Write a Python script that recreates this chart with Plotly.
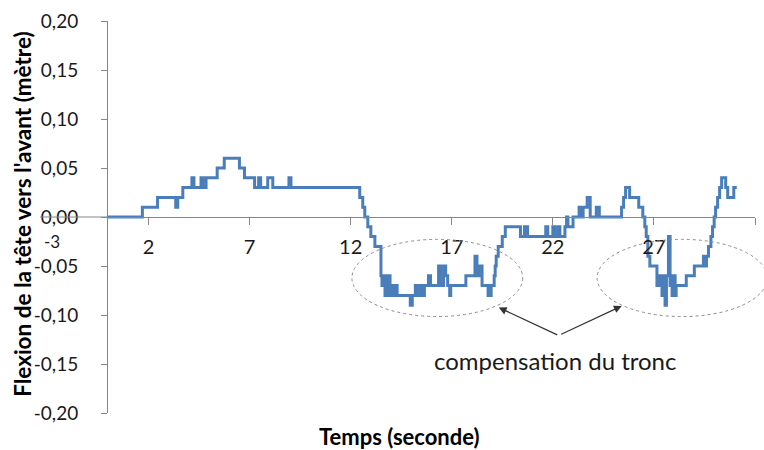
import plotly.graph_objects as go

# ---- data ----
time_s = [0.0, 1.7, 2.45, 3.35, 3.45, 3.7, 4.15, 4.25, 4.6, 4.7, 4.85, 5.4, 5.75, 6.5, 6.75,
          7.25, 7.45, 7.55, 7.9, 8.15, 8.95, 9.05, 12.45, 12.6, 12.7, 12.85, 13.0, 13.2, 13.5,
          13.55, 13.65, 13.7, 13.75, 13.8, 13.9, 13.95, 14.05, 14.1, 14.2, 14.3, 14.95, 15.05,
          15.2, 15.3, 15.45, 15.55, 15.65, 15.85, 15.95, 16.35, 16.45, 16.6, 16.7, 16.8, 16.9,
          16.95, 17.7, 18.15, 18.25, 18.35, 18.5, 18.8, 18.95, 19.1, 19.15, 19.2, 19.3, 19.5,
          19.65, 20.4, 20.6, 20.75, 21.65, 21.75, 22.0, 22.1, 22.25, 22.35, 22.6, 22.68, 22.75,
          23.0, 23.3, 23.4, 23.5, 23.7, 23.85, 24.15, 24.3, 25.4, 25.5, 25.6, 25.8, 26.25, 26.45,
          26.55, 26.62, 26.7, 26.8, 27.15, 27.3, 27.4, 27.45, 27.55, 27.62, 27.72, 27.8, 27.85,
          27.9, 27.95, 28.05, 28.1, 28.6, 29.0, 29.45, 29.53, 29.6, 29.7, 29.82, 29.9, 29.98,
          30.05, 30.15, 30.25, 30.35, 30.55, 30.65, 30.95, 31.1]
flexion_m = [0.00, 0.01, 0.02, 0.01, 0.02, 0.03, 0.04, 0.03, 0.04, 0.03, 0.04, 0.05, 0.06, 0.05, 0.04,
             0.03, 0.04, 0.03, 0.04, 0.03, 0.04, 0.03, 0.02, 0.01, 0.00, -0.01, -0.02, -0.03, -0.06,
             -0.07, -0.06, -0.08, -0.06, -0.08, -0.06, -0.08, -0.07, -0.08, -0.07, -0.08, -0.09, -0.08,
             -0.07, -0.08, -0.07, -0.08, -0.07, -0.06, -0.07, -0.05, -0.07, -0.05, -0.06, -0.07, -0.08,
             -0.07, -0.06, -0.04, -0.06, -0.05, -0.07, -0.08, -0.07, -0.06, -0.05, -0.04, -0.03, -0.02,
             -0.01, -0.02, -0.01, -0.02, -0.01, -0.02, -0.01, -0.02, -0.01, -0.02, -0.01, 0.00, -0.01,
             0.00, 0.01, 0.00, 0.01, 0.02, 0.00, 0.01, 0.00, 0.01, 0.02, 0.03, 0.02, 0.01, 0.00,
             -0.01, -0.02, -0.04, -0.05, -0.07, -0.06, -0.08, -0.06, -0.09, -0.06, -0.02, -0.07, -0.06,
             -0.08, -0.06, -0.08, -0.07, -0.06, -0.05, -0.04, -0.05, -0.04, -0.03, -0.02, -0.01, 0.00,
             0.01, 0.02, 0.03, 0.04, 0.03, 0.02, 0.03, 0.03]

x_ticks = [2, 7, 12, 17, 22, 27, 32]
y_ticks = [-0.20, -0.15, -0.10, -0.05, 0.00, 0.05, 0.10, 0.15, 0.20]
y_ticktext = [f"{v:.2f}".replace(".", ",") for v in y_ticks]

FONT = "Lato"
AXIS = "#868686"
TXT = "#1a1a1a"

fig = go.Figure()
fig.add_trace(go.Scatter(x=time_s, y=flexion_m, mode="lines", line_shape="hv",
                         line=dict(color="#4A7EBB", width=3), showlegend=False, hoverinfo="skip"))

fig.update_layout(
    width=764, height=450,
    margin=dict(l=108, r=9, t=18, b=37),
    paper_bgcolor="white", plot_bgcolor="white",
    font=dict(family=FONT, size=19, color=TXT),
    xaxis=dict(range=[0, 32], tickvals=x_ticks, ticktext=[str(v) for v in x_ticks],
               showgrid=False, zeroline=False, showline=True, linecolor=AXIS, linewidth=1,
               ticks="outside", ticklen=7, tickcolor=AXIS, anchor="free", position=0.5,
               ticklabelstandoff=5, tickfont=dict(size=20)),
    yaxis=dict(range=[-0.2, 0.2], tickvals=y_ticks, ticktext=y_ticktext,
               showgrid=False, zeroline=False, showline=True, linecolor=AXIS, linewidth=1,
               ticks="outside", ticklen=6, tickcolor=AXIS, ticklabelstandoff=19),
)

# zero line extending through the 0,00 label
fig.add_shape(type="line", xref="paper", yref="paper", x0=-0.105, x1=0, y0=0.5, y1=0.5,
              line=dict(color=AXIS, width=1))

# dotted ellipses
for x0, x1 in [(0.377, 0.641), (0.756, 1.019)]:
    fig.add_shape(type="circle", xref="paper", yref="paper", x0=x0, x1=x1, y0=0.246, y1=0.443,
                  line=dict(color="#8c8c8c", width=1, dash="dot"))

# arrows
fig.add_annotation(xref="paper", yref="paper", x=0.604, y=0.269, ax=60, ay=28, text="",
                   showarrow=True, arrowhead=2, arrowsize=1.3, arrowwidth=1.2, arrowcolor="#333")
fig.add_annotation(xref="paper", yref="paper", x=0.794, y=0.273, ax=-62, ay=29, text="",
                   showarrow=True, arrowhead=2, arrowsize=1.3, arrowwidth=1.2, arrowcolor="#333")

fig.add_annotation(xref="paper", yref="paper", x=0.691, y=0.134, text="compensation du tronc",
                   showarrow=False, font=dict(family=FONT, size=24, color=TXT),
                   xanchor="center", yanchor="middle")
fig.add_annotation(xref="paper", yref="paper", x=-0.087, y=0.437, text="-3",
                   showarrow=False, font=dict(family=FONT, size=17, color=TXT),
                   xanchor="center", yanchor="middle")
fig.add_annotation(xref="paper", yref="paper", x=0.45, y=-0.061, text="<b>Temps (seconde)</b>",
                   showarrow=False, font=dict(family=FONT, size=22, color="#000"),
                   xanchor="center", yanchor="middle")
fig.add_annotation(xref="paper", yref="paper", x=-0.132, y=0.507,
                   text="<b>Flexion de la tête vers l'avant (mètre)</b>", textangle=-90,
                   showarrow=False, font=dict(family=FONT, size=22.5, color="#000"),
                   xanchor="center", yanchor="middle")

fig.write_html("out.html", post_script="document.body.style.margin='0';",
               config={"displayModeBar": False})
